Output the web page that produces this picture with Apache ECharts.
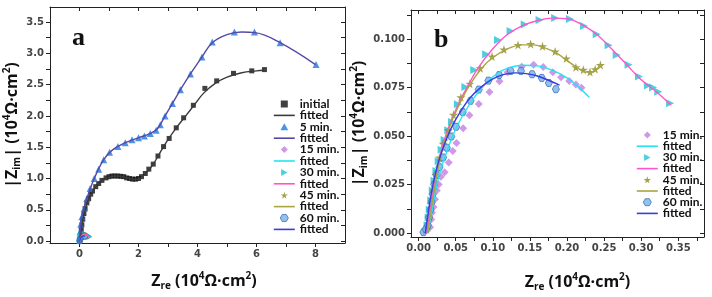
<!DOCTYPE html>
<html>
<head>
<meta charset="utf-8">
<script src="https://cdn.jsdelivr.net/npm/echarts@6/dist/echarts.min.js"></script>
<style>
  html, body { margin: 0; padding: 0; background: #fff; }
  #chart { width: 712px; height: 297px; }
</style>
</head>
<body>
<div id="chart"></div>
<script>
// Nyquist data, [Zre, |Zim|] in 10^4 ohm cm2
const initialPts = [[0.02,0.02],[0.04,0.1],[0.06,0.18],[0.08,0.26],[0.11,0.35],[0.15,0.44],[0.19,0.52],[0.25,0.61],[0.31,0.68],[0.38,0.75],[0.44,0.8],[0.55,0.87],[0.65,0.92],[0.76,0.97],[0.9,1.01],[1.0,1.03],[1.1,1.04],[1.2,1.04],[1.3,1.04],[1.4,1.035],[1.5,1.03],[1.6,1.01],[1.7,1.0],[1.8,0.99],[1.9,0.99],[2.0,1.0],[2.1,1.03],[2.23,1.08],[2.35,1.15],[2.5,1.23],[2.66,1.36],[2.85,1.51],[3.04,1.64],[3.28,1.81],[3.53,1.97],[3.86,2.17],[4.25,2.44],[4.65,2.56],[5.22,2.68],[5.84,2.72],[6.27,2.74]];
const initialFit = [[0.02,0],[0.06,0.18],[0.12,0.35],[0.2,0.52],[0.3,0.66],[0.45,0.8],[0.6,0.9],[0.8,0.98],[1.0,1.02],[1.3,1.04],[1.6,1.01],[1.85,0.985],[2.05,1.0],[2.25,1.08],[2.5,1.23],[2.75,1.43],[3.0,1.62],[3.3,1.82],[3.6,2.0],[3.9,2.18],[4.2,2.36],[4.6,2.52],[5.0,2.62],[5.5,2.69],[6.0,2.72],[6.25,2.73]];

const min5Pts = [[0.0,0.05],[0.02,0.15],[0.04,0.27],[0.08,0.39],[0.16,0.52],[0.25,0.68],[0.36,0.84],[0.5,1.0],[0.65,1.15],[0.82,1.3],[1.02,1.42],[1.3,1.51],[1.55,1.57],[1.78,1.62],[2.0,1.65],[2.2,1.68],[2.4,1.72],[2.6,1.77],[2.74,1.86],[2.9,2.0],[3.15,2.2],[3.42,2.42],[3.76,2.67],[4.15,2.94],[4.5,3.18],[5.25,3.34],[5.93,3.34],[6.8,3.17],[8.02,2.82]];
const min5Fit = [[0.0,0],[0.02,0.15],[0.08,0.39],[0.25,0.68],[0.5,1.0],[0.82,1.3],[1.1,1.45],[1.5,1.56],[2.0,1.65],[2.4,1.72],[2.65,1.8],[2.9,2.0],[3.2,2.24],[3.5,2.48],[3.8,2.7],[4.15,2.94],[4.5,3.17],[5.0,3.3],[5.5,3.34],[5.95,3.33],[6.8,3.17],[8.0,2.82]];

const min15Pts = [[0.0155,0.003],[0.017,0.007],[0.018,0.0105],[0.02,0.0135],[0.022,0.0175],[0.0245,0.022],[0.027,0.025],[0.03,0.029],[0.035,0.0314],[0.0405,0.0364],[0.046,0.0423],[0.051,0.0465],[0.06,0.054],[0.0685,0.0607],[0.081,0.0665],[0.0955,0.0727],[0.109,0.0783],[0.12,0.0829],[0.139,0.0858],[0.155,0.0868],[0.168,0.0856],[0.181,0.0829],[0.192,0.0803],[0.203,0.0784],[0.212,0.0766],[0.2195,0.0749]];
const min15Fit = [[0.012,0],[0.015,0.006],[0.019,0.014],[0.024,0.024],[0.03,0.033],[0.038,0.042],[0.048,0.052],[0.06,0.061],[0.075,0.07],[0.09,0.077],[0.105,0.082],[0.12,0.085],[0.14,0.0865],[0.16,0.0862],[0.18,0.084],[0.2,0.08],[0.215,0.0755],[0.23,0.07]];

const min30Pts = [[0.011,0.001],[0.012,0.004],[0.0135,0.008],[0.015,0.012],[0.017,0.017],[0.019,0.022],[0.0215,0.027],[0.024,0.032],[0.027,0.037],[0.031,0.043],[0.035,0.048],[0.04,0.053],[0.045,0.0573],[0.053,0.0664],[0.063,0.0753],[0.075,0.0841],[0.091,0.0922],[0.107,0.0995],[0.124,0.1042],[0.143,0.1075],[0.163,0.1098],[0.184,0.1109],[0.204,0.1104],[0.223,0.1068],[0.24,0.1025],[0.256,0.0968],[0.267,0.0918],[0.283,0.0868],[0.297,0.0807],[0.309,0.0761],[0.316,0.0751],[0.323,0.0729],[0.339,0.0669]];
const min30Fit = [[0.011,0],[0.015,0.01],[0.02,0.022],[0.026,0.035],[0.033,0.046],[0.042,0.056],[0.053,0.066],[0.065,0.075],[0.08,0.085],[0.1,0.095],[0.12,0.1025],[0.14,0.107],[0.16,0.1095],[0.18,0.1108],[0.2,0.1105],[0.22,0.1075],[0.24,0.1025],[0.26,0.095],[0.28,0.087],[0.3,0.079],[0.32,0.073],[0.34,0.066]];

const min45Pts = [[0.011,0.002],[0.014,0.008],[0.017,0.015],[0.02,0.022],[0.023,0.03],[0.028,0.039],[0.033,0.046],[0.04,0.053],[0.047,0.061],[0.057,0.07],[0.069,0.077],[0.083,0.085],[0.099,0.091],[0.115,0.0946],[0.134,0.097],[0.151,0.0975],[0.167,0.0963],[0.184,0.0936],[0.199,0.09],[0.212,0.0855],[0.222,0.0842],[0.231,0.083],[0.238,0.0845],[0.245,0.0866]];
const min45Fit = [[0.012,0],[0.016,0.01],[0.021,0.022],[0.027,0.035],[0.035,0.047],[0.045,0.058],[0.057,0.068],[0.07,0.077],[0.085,0.085],[0.1,0.0905],[0.12,0.095],[0.14,0.097],[0.155,0.097],[0.17,0.0955],[0.185,0.093],[0.2,0.089],[0.213,0.0855],[0.225,0.083],[0.233,0.083],[0.24,0.0845],[0.245,0.0865]];

const min60Pts = [[0.0065,0.0005],[0.0095,0.002],[0.0125,0.004],[0.014,0.008],[0.016,0.012],[0.0175,0.016],[0.019,0.02],[0.021,0.025],[0.024,0.03],[0.028,0.034],[0.033,0.039],[0.038,0.044],[0.044,0.0498],[0.0505,0.0548],[0.0595,0.0624],[0.07,0.0682],[0.081,0.074],[0.094,0.0786],[0.1085,0.0815],[0.124,0.0836],[0.138,0.0836],[0.153,0.0819],[0.166,0.08],[0.1755,0.0774],[0.185,0.0742]];
const min60Fit = [[0.009,0],[0.012,0.008],[0.016,0.018],[0.021,0.028],[0.027,0.037],[0.035,0.046],[0.045,0.055],[0.057,0.063],[0.07,0.07],[0.085,0.0755],[0.1,0.0795],[0.115,0.0818],[0.13,0.0826],[0.145,0.0822],[0.16,0.081],[0.175,0.0788],[0.19,0.0763]];

// ticks
const aXTicks = [0, 1, 2, 3, 4, 5, 6, 7, 8];
const aXLabels = [0, 2, 4, 6, 8];
const aYTicks = [0, 0.25, 0.5, 0.75, 1, 1.25, 1.5, 1.75, 2, 2.25, 2.5, 2.75, 3, 3.25, 3.5];
const aYLabels = [0, 0.5, 1, 1.5, 2, 2.5, 3, 3.5];
const bXTicks = [0, 0.025, 0.05, 0.075, 0.1, 0.125, 0.15, 0.175, 0.2, 0.225, 0.25, 0.275, 0.3, 0.325, 0.35, 0.375];
const bXLabels = [0, 0.05, 0.1, 0.15, 0.2, 0.25, 0.3, 0.35];
const bYTicks = [0, 0.0125, 0.025, 0.0375, 0.05, 0.0625, 0.075, 0.0875, 0.1, 0.1125];
const bYLabels = [0, 0.025, 0.05, 0.075, 0.1];

const legendA = ['initial', 'fit-initial', '5 min.', 'fit-5', '15 min.', 'fit-15', '30 min.', 'fit-30', '45 min.', 'fit-45', '60 min.', 'fit-60'];
const legendB = ['15 min.', 'fit-15', '30 min.', 'fit-30', '45 min.', 'fit-45', '60 min.', 'fit-60'];

// marker shapes as paths so the legend keeps their aspect
const SYM = {
    square: 'path://M0,0 H10 V10 H0 Z',
    triUp: 'path://M5,0 L10,9 L0,9 Z',
    triRight: 'path://M0,0 L9,5 L0,10 Z',
    diamond: 'path://M5,0 L10,5 L5,10 L0,5 Z',
    star: 'path://M50,0 L61,35 L98,35 L68,57 L79,91 L50,70 L21,91 L32,57 L2,35 L39,35 Z',
    hex: 'path://M2.5,0 H7.5 L10,4.33 L7.5,8.66 H2.5 L0,4.33 Z'
};
const tickFont = { fontFamily: 'DejaVu Sans', fontWeight: 'bold', fontSize: 10, color: '#444' };
const nameRich = {
    m: { fontFamily: 'Open Sans', fontWeight: 'bold', fontSize: 16, color: '#111', lineHeight: 20 },
    s: { fontFamily: 'Open Sans', fontWeight: 'bold', fontSize: 10, color: '#111', lineHeight: 9, verticalAlign: 'bottom' },
    p: { fontFamily: 'Open Sans', fontWeight: 'bold', fontSize: 10, color: '#111', lineHeight: 10, verticalAlign: 'top' }
};
const xName = '{m|Z}{s|re}{m| (10}{p|4}{m|Ω·cm}{p|2}{m|)}';
const yName = '{m||Z}{s|im}{m|| (10}{p|4}{m|Ω·cm}{p|2}{m|)}';

function mainX(grid, min, max, ticks, labels, fmt, gap, namePad) {
    return {
        type: 'value', gridIndex: grid, position: 'bottom', min: min, max: max,
        name: xName, nameLocation: 'middle', nameGap: gap,
        nameTextStyle: { rich: nameRich, padding: [0, 0, 0, namePad] },
        axisLine: { onZero: false, lineStyle: { color: '#222', width: 1 } },
        axisTick: { customValues: ticks, length: 4, lineStyle: { color: '#222' } },
        axisLabel: Object.assign({ customValues: labels, margin: 6, formatter: fmt }, tickFont),
        splitLine: { show: false }
    };
}
function mirrorX(grid, min, max, ticks) {
    return {
        type: 'value', gridIndex: grid, position: 'top', min: min, max: max,
        axisLine: { onZero: false, lineStyle: { color: '#222', width: 1 } },
        axisTick: { inside: true, customValues: ticks, length: 4, lineStyle: { color: '#222' } },
        axisLabel: { show: false }, splitLine: { show: false }
    };
}
function mainY(grid, min, max, ticks, labels, fmt, gap) {
    return {
        type: 'value', gridIndex: grid, position: 'left', min: min, max: max,
        name: yName, nameLocation: 'middle', nameGap: gap, nameRotate: 90,
        nameTextStyle: { rich: nameRich },
        axisLine: { onZero: false, lineStyle: { color: '#222', width: 1 } },
        axisTick: { customValues: ticks, length: 4, lineStyle: { color: '#222' } },
        axisLabel: Object.assign({ customValues: labels, margin: 6, formatter: fmt }, tickFont),
        splitLine: { show: false }
    };
}
function mirrorY(grid, min, max, ticks) {
    return {
        type: 'value', gridIndex: grid, position: 'right', min: min, max: max,
        axisLine: { onZero: false, lineStyle: { color: '#222', width: 1 } },
        axisTick: { inside: true, customValues: ticks, length: 4, lineStyle: { color: '#222' } },
        axisLabel: { show: false }, splitLine: { show: false }
    };
}

function dots(name, data, ax, symbol, size, color, border) {
    return {
        name: name, type: 'scatter', xAxisIndex: ax, yAxisIndex: ax, data: data,
        symbol: symbol, symbolSize: size,
        itemStyle: { color: color, borderColor: border || color, borderWidth: border ? 1 : 0 }
    };
}
function fit(name, data, ax, color) {
    return {
        name: name, type: 'line', xAxisIndex: ax, yAxisIndex: ax, data: data,
        smooth: 0.4, symbol: 'none', lineStyle: { color: color, width: 1.4 },
        itemStyle: { color: color }
    };
}

const C = {
    initial: '#111111', fitInitial: '#3a3a3a',
    m5: '#1f78e0', fit5: '#5548a8',
    m15: '#c27fe0', fit15: '#22e4f2',
    m30: '#1fc3d6', fit30: '#ff55cc',
    m45: '#8a8a1e', fit45: '#a8a642',
    m60: '#7ab0e6', m60b: '#3a74bc', fit60: '#3a3ae0'
};

function groupSeries(ax, big) {
    const k = big ? 1 : 0.75;
    return [
        dots('15 min.', min15Pts, ax, SYM.diamond, 8 * k, C.m15),
        dots('30 min.', min30Pts, ax, SYM.triRight, 8 * k, C.m30),
        dots('45 min.', min45Pts, ax, SYM.star, 9 * k, C.m45),
        dots('60 min.', min60Pts, ax, SYM.hex, 7 * k, C.m60, C.m60b),
        fit('fit-15', min15Fit, ax, C.fit15),
        fit('fit-30', min30Fit, ax, C.fit30),
        fit('fit-45', min45Fit, ax, C.fit45),
        fit('fit-60', min60Fit, ax, C.fit60)
    ];
}

// hide the dot the legend puts on line icons
function legendItems(names) {
    return names.map(n => n.startsWith('fit')
        ? { name: n, itemStyle: { opacity: 0 }, lineStyle: { width: 1.6 } }
        : { name: n, itemStyle: { borderWidth: n === '60 min.' ? 1 : 0 } });
}

const legendBase = {
    orient: 'vertical', itemWidth: 21, itemHeight: 7, padding: 0,
    selectedMode: false,
    formatter: n => n.startsWith('fit') ? 'fitted' : n,
    textStyle: { fontFamily: 'Lato', fontWeight: 'bold', fontSize: 12, color: '#111', lineHeight: 10 }
};

const chart = echarts.init(document.getElementById('chart'), null, { renderer: 'canvas' });
chart.setOption({
    animation: false,
    backgroundColor: '#fff',
    title: [
        { text: 'a', left: 72, top: 25, padding: 0, textStyle: { fontFamily: 'Liberation Serif', fontWeight: 'bold', fontSize: 26, color: '#111' } },
        { text: 'b', left: 434, top: 27, padding: 0, textStyle: { fontFamily: 'Liberation Serif', fontWeight: 'bold', fontSize: 26, color: '#111' } }
    ],
    grid: [
        { left: 50, top: 7, width: 295, height: 236 },
        { left: 411, top: 10, width: 293, height: 233 }
    ],
    xAxis: [
        mainX(0, -1, 9, aXTicks, aXLabels, v => String(v), 28, 13),
        mirrorX(0, -1, 9, aXTicks),
        mainX(1, -0.0103, 0.3847, bXTicks, bXLabels, v => v.toFixed(2), 35, 40),
        mirrorX(1, -0.0103, 0.3847, bXTicks)
    ],
    yAxis: [
        mainY(0, -0.03, 3.74, aYTicks, aYLabels, v => v.toFixed(1), 22),
        mirrorY(0, -0.03, 3.74, aYTicks),
        mainY(1, -0.002, 0.115, bYTicks, bYLabels, v => v.toFixed(3), 33),
        mirrorY(1, -0.002, 0.115, bYTicks)
    ],
    legend: [
        Object.assign({ left: 273, top: 98, itemGap: -0.6, data: legendItems(legendA) }, legendBase),
        Object.assign({ left: 636, top: 129, itemGap: -0.8, data: legendItems(legendB) }, legendBase)
    ],
    series: [
        dots('initial', initialPts, 0, SYM.square, 5, C.initial),
        dots('5 min.', min5Pts, 0, SYM.triUp, 7, C.m5),
        fit('fit-initial', initialFit, 0, C.fitInitial),
        fit('fit-5', min5Fit, 0, C.fit5)
    ].concat(groupSeries(0, false)).concat(groupSeries(2, true))
});
</script>
</body>
</html>
